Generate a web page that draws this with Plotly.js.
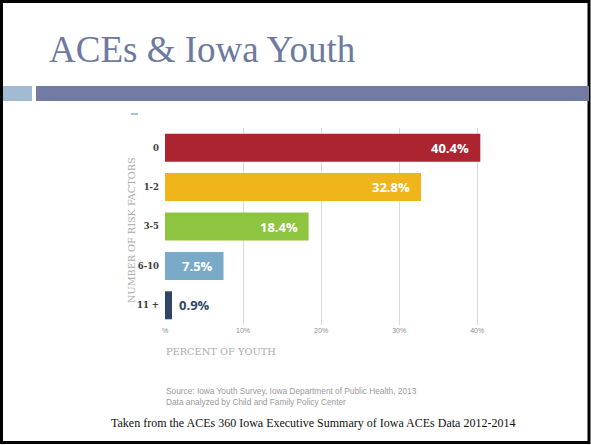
<!DOCTYPE html>
<html>
<head>
<meta charset="utf-8">
<script src="https://cdn.plot.ly/plotly-3.0.1.min.js"></script>
<style>html,body{margin:0;padding:0;background:#fff;}#chart{width:591px;height:445px;}</style>
</head>
<body>
<div id="chart"></div>
<script>
// Data
const categories = ["0", "1-2", "3-5", "6-10", "11 +"];
const percentValues = [40.4, 32.8, 18.4, 7.5, 0.9];
const barColors = ["#ad2431", "#f1b51c", "#8dc440", "#79abc8", "#2f4669"];
const tickValues = [0, 10, 20, 30, 40];
const tickLabels = ["%", "10%", "20%", "30%", "40%"];

// Layout geometry helpers (pixel -> paper)
const W = 591, H = 445;
const mL = 165, mR = 106, mT = 128, mB = 120;
const pw = W - mL - mR, ph = H - mT - mB;
const px = p => (p - mL) / pw;
const py = p => (H - mB - p) / ph;

const labelAnns = percentValues.map((v, i) => {
  const inside = v > 5;
  return {
    x: v, y: categories[i], xref: 'x', yref: 'y',
    text: v.toFixed(1) + '%', showarrow: false,
    xanchor: inside ? 'right' : 'left',
    xshift: inside ? -9 : 5,
    font: {family: 'Open Sans, sans-serif', size: 13, color: inside ? '#ffffff' : '#2f4669', weight: 700}
  };
});

const data = [{
  type: 'bar', orientation: 'h',
  x: percentValues, y: categories,
  marker: {color: barColors},
  hoverinfo: 'none'
}];

const layout = {
  width: W, height: H,
  margin: {l: mL, r: mR, t: mT, b: mB},
  paper_bgcolor: '#ffffff', plot_bgcolor: '#ffffff',
  showlegend: false,
  bargap: 0.29,
  xaxis: {
    range: [0, 41], tickvals: tickValues, ticktext: tickLabels,
    showgrid: true, gridcolor: '#d9d9d9', gridwidth: 1, zeroline: false,
    showline: false, ticks: '',
    tickfont: {family: 'Liberation Sans, sans-serif', size: 7, color: '#8c8c8c'},
    fixedrange: true
  },
  yaxis: {
    autorange: false, range: [4.5, -0.5],
    categoryorder: 'array', categoryarray: categories,
    showgrid: false, zeroline: false, showline: false, ticks: '',
    ticklabelstandoff: 5,
    tickfont: {family: 'DejaVu Serif, serif', size: 8.5, color: '#3a3a3a', weight: 700},
    fixedrange: true
  },
  shapes: [
    // slide border
    {type: 'rect', xref: 'paper', yref: 'paper', x0: px(1.5), x1: px(589), y0: py(1.5), y1: py(442.5),
     line: {color: '#000000', width: 3}, fillcolor: 'rgba(0,0,0,0)', layer: 'above'},
    // title band
    {type: 'rect', xref: 'paper', yref: 'paper', x0: px(3), x1: px(32), y0: py(86), y1: py(101),
     line: {width: 0}, fillcolor: '#a2bbd2'},
    {type: 'rect', xref: 'paper', yref: 'paper', x0: px(36), x1: px(589), y0: py(86), y1: py(101),
     line: {width: 0}, fillcolor: '#727ca2'},
    // small dash
    {type: 'line', xref: 'paper', yref: 'paper', x0: px(131), x1: px(138), y0: py(114), y1: py(114),
     line: {color: '#8fb0d2', width: 1.5}}
  ],
  annotations: [
    {xref: 'paper', yref: 'paper', x: px(47), y: py(49.5), xanchor: 'left', yanchor: 'middle',
     text: 'ACEs &amp; Iowa Youth', showarrow: false,
     font: {family: 'Liberation Serif, Times New Roman, serif', size: 37, color: '#6e79a1'}},
    {xref: 'paper', yref: 'paper', x: px(131), y: py(230), xanchor: 'center', yanchor: 'middle',
     text: 'NUMBER OF RISK FACTORS', textangle: -90, showarrow: false,
     font: {family: 'DejaVu Serif, serif', size: 9.7, color: '#ababab'}},
    {xref: 'paper', yref: 'paper', x: px(164), y: py(351), xanchor: 'left', yanchor: 'middle',
     text: 'PERCENT OF YOUTH', showarrow: false,
     font: {family: 'DejaVu Serif, serif', size: 9.8, color: '#ababab'}},
    {xref: 'paper', yref: 'paper', x: px(164), y: py(391), xanchor: 'left', yanchor: 'middle',
     text: 'Source: Iowa Youth Survey, Iowa Department of Public Health, 2013', showarrow: false,
     font: {family: 'Liberation Sans, Arial, sans-serif', size: 8.3, color: '#9a9a9a'}},
    {xref: 'paper', yref: 'paper', x: px(164), y: py(402), xanchor: 'left', yanchor: 'middle',
     text: 'Data analyzed by Child and Family Policy Center', showarrow: false,
     font: {family: 'Liberation Sans, Arial, sans-serif', size: 8.3, color: '#9a9a9a'}},
    {xref: 'paper', yref: 'paper', x: px(313), y: py(423), xanchor: 'center', yanchor: 'middle',
     text: 'Taken from the ACEs 360 Iowa Executive Summary of Iowa ACEs Data 2012-2014', showarrow: false,
     font: {family: 'Liberation Serif, Times New Roman, serif', size: 12, color: '#111111'}}
  ].concat(labelAnns)
};

Plotly.newPlot('chart', data, layout, {displayModeBar: false, staticPlot: true});
</script>
</body>
</html>
